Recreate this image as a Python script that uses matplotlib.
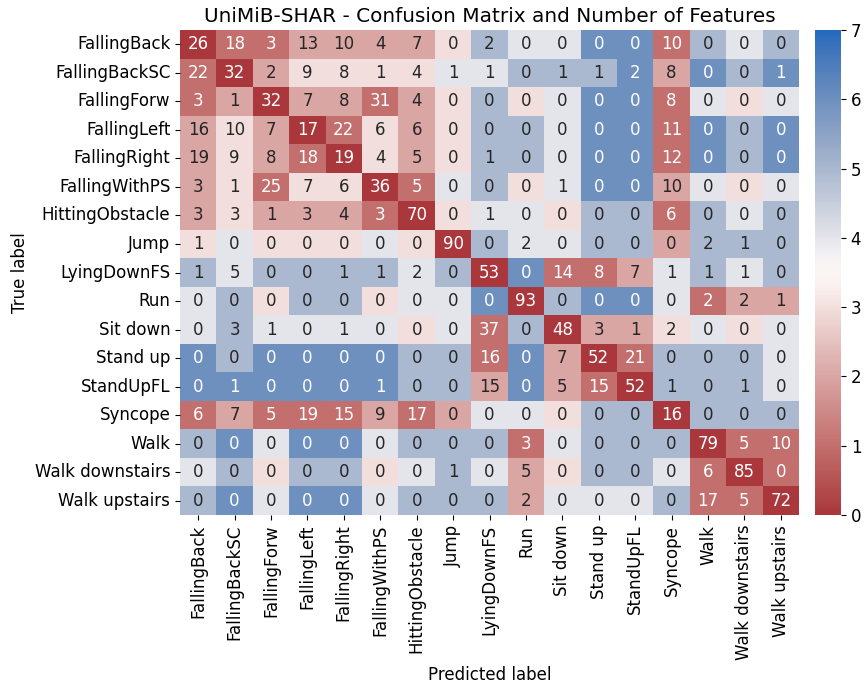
import numpy as np
import matplotlib
matplotlib.use("Agg")
import matplotlib.pyplot as plt
import seaborn as sns

# ========== 数据 ==========
labels = ["FallingBack", "FallingBackSC", "FallingForw", "FallingLeft", "FallingRight",
          "FallingWithPS", "HittingObstacle", "Jump", "LyingDownFS", "Run", "Sit down",
          "Stand up", "StandUpFL", "Syncope", "Walk", "Walk downstairs", "Walk upstairs"]

# 混淆矩阵数值 (注释)
counts = np.array([
    [26, 18, 3, 13, 10, 4, 7, 0, 2, 0, 0, 0, 0, 10, 0, 0, 0],
    [22, 32, 2, 9, 8, 1, 4, 1, 1, 0, 1, 1, 2, 8, 0, 0, 1],
    [3, 1, 32, 7, 8, 31, 4, 0, 0, 0, 0, 0, 0, 8, 0, 0, 0],
    [16, 10, 7, 17, 22, 6, 6, 0, 0, 0, 0, 0, 0, 11, 0, 0, 0],
    [19, 9, 8, 18, 19, 4, 5, 0, 1, 0, 0, 0, 0, 12, 0, 0, 0],
    [3, 1, 25, 7, 6, 36, 5, 0, 0, 0, 1, 0, 0, 10, 0, 0, 0],
    [3, 3, 1, 3, 4, 3, 70, 0, 1, 0, 0, 0, 0, 6, 0, 0, 0],
    [1, 0, 0, 0, 0, 0, 0, 90, 0, 2, 0, 0, 0, 0, 2, 1, 0],
    [1, 5, 0, 0, 1, 1, 2, 0, 53, 0, 14, 8, 7, 1, 1, 1, 0],
    [0, 0, 0, 0, 0, 0, 0, 0, 0, 93, 0, 0, 0, 0, 2, 2, 1],
    [0, 3, 1, 0, 1, 0, 0, 0, 37, 0, 48, 3, 1, 2, 0, 0, 0],
    [0, 0, 0, 0, 0, 0, 0, 0, 16, 0, 7, 52, 21, 0, 0, 0, 0],
    [0, 1, 0, 0, 0, 1, 0, 0, 15, 0, 5, 15, 52, 1, 0, 1, 0],
    [6, 7, 5, 19, 15, 9, 17, 0, 0, 0, 0, 0, 0, 16, 0, 0, 0],
    [0, 0, 0, 0, 0, 0, 0, 0, 0, 3, 0, 0, 0, 0, 79, 5, 10],
    [0, 0, 0, 0, 0, 0, 0, 1, 0, 5, 0, 0, 0, 0, 6, 85, 0],
    [0, 0, 0, 0, 0, 0, 0, 0, 0, 2, 0, 0, 0, 0, 17, 5, 72],
])

# 特征数量 (颜色)
features = np.array([
    [0, 1, 1, 2, 2, 2, 2, 3, 5, 4, 4, 6, 6, 1, 5, 4, 5],
    [1, 0, 2, 3, 3, 3, 3, 4, 4, 5, 5, 5, 6, 2, 6, 5, 6],
    [1, 2, 0, 2, 2, 1, 2, 3, 5, 3, 4, 6, 6, 1, 4, 3, 4],
    [2, 3, 2, 0, 1, 3, 2, 3, 5, 5, 4, 6, 6, 1, 6, 5, 6],
    [2, 3, 2, 1, 0, 3, 2, 3, 5, 5, 4, 6, 6, 1, 6, 5, 6],
    [2, 3, 1, 3, 3, 0, 1, 4, 5, 3, 4, 6, 6, 2, 4, 3, 4],
    [2, 3, 2, 2, 2, 1, 0, 3, 4, 4, 3, 5, 5, 1, 5, 4, 5],
    [3, 4, 3, 3, 3, 4, 3, 0, 5, 4, 4, 5, 5, 2, 5, 5, 5],
    [5, 4, 5, 5, 5, 5, 4, 5, 0, 6, 1, 1, 2, 4, 5, 4, 5],
    [4, 5, 3, 5, 5, 3, 4, 4, 6, 0, 5, 6, 6, 4, 1, 2, 2],
    [4, 5, 4, 4, 4, 4, 3, 4, 1, 5, 0, 2, 2, 3, 4, 3, 4],
    [6, 5, 6, 6, 6, 6, 5, 5, 1, 6, 2, 0, 1, 5, 5, 5, 4],
    [6, 6, 6, 6, 6, 6, 5, 5, 2, 6, 2, 1, 0, 5, 5, 5, 4],
    [1, 2, 1, 1, 1, 2, 1, 2, 4, 4, 3, 5, 5, 0, 5, 5, 5],
    [5, 6, 4, 6, 6, 4, 5, 5, 5, 1, 4, 5, 5, 5, 0, 1, 1],
    [4, 5, 3, 5, 5, 3, 4, 5, 4, 2, 3, 5, 5, 4, 1, 0, 1],
    [5, 6, 4, 6, 6, 4, 5, 5, 5, 2, 4, 4, 4, 5, 1, 1, 0],
])

# ========== 绘图 ==========
fig = plt.figure(figsize=(8.65, 6.89), dpi=100)
ax = fig.add_axes([180 / 865, 174 / 689, 619 / 865, 485 / 689])
cax = fig.add_axes([815 / 865, 174 / 689, 26 / 865, 485 / 689])

sns.heatmap(features, annot=counts, fmt="d", cmap="vlag_r", vmin=0, vmax=7,
            ax=ax, cbar_ax=cax, xticklabels=labels, yticklabels=labels,
            annot_kws={"size": 12})

ax.set_title("UniMiB-SHAR - Confusion Matrix and Number of Features", fontsize=14.4)
ax.set_xlabel("Predicted label", fontsize=12)
ax.set_ylabel("True label", fontsize=12)
ax.tick_params(axis="both", labelsize=12)
plt.setp(ax.get_xticklabels(), rotation=90)
plt.setp(ax.get_yticklabels(), rotation=0)
cax.tick_params(labelsize=12)

fig.savefig("out.png", dpi=100)
